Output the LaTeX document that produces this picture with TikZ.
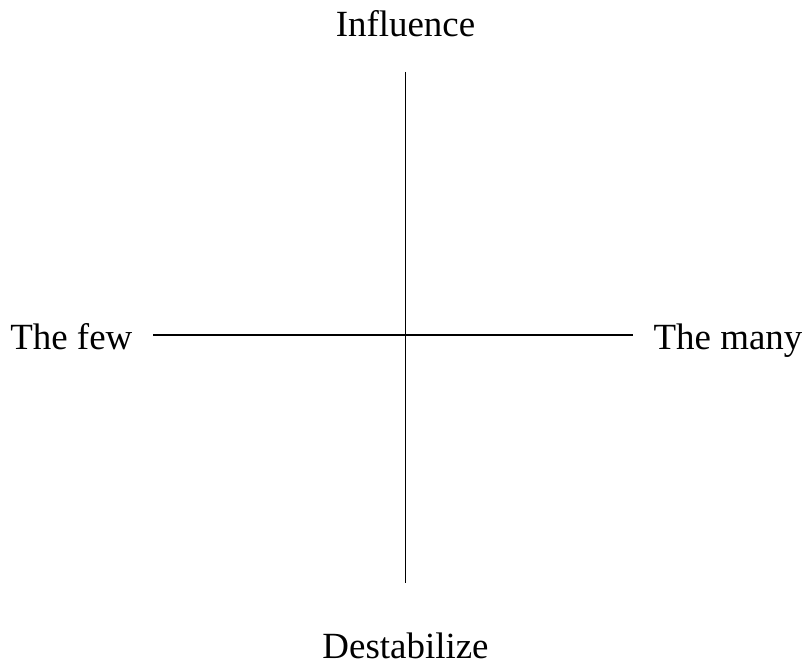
\documentclass[tikz,border=0pt]{standalone}
\usepackage{fontspec}
\setmainfont{Liberation Serif}
\begin{document}
\begin{tikzpicture}[x=0.75pt,y=-0.75pt,line width=1pt,font=\fontsize{27.7}{33}\selectfont]
            \useasboundingbox (0,0) rectangle (802,666);
            \draw (405.5,72) coordinate (T) node[anchor=base,inner sep=0pt,yshift=26.25pt] (Infl) {Influence};
            \draw (405.5,583) coordinate (B) node[anchor=base,inner sep=0pt,yshift=-56.5pt] (Dest) {Destabilize};
            \draw (153,335) coordinate (L) node[anchor=base east,inner sep=0pt,xshift=-15pt,yshift=-10.5pt] (Few) {The few};
            \draw (633,335) coordinate (R) node[anchor=base west,inner sep=0pt,xshift=15pt,yshift=-10.5pt] (Many) {The many};
            \draw (T) -- (B);
            \draw (L) -- (R);
        \end{tikzpicture}
\end{document}
